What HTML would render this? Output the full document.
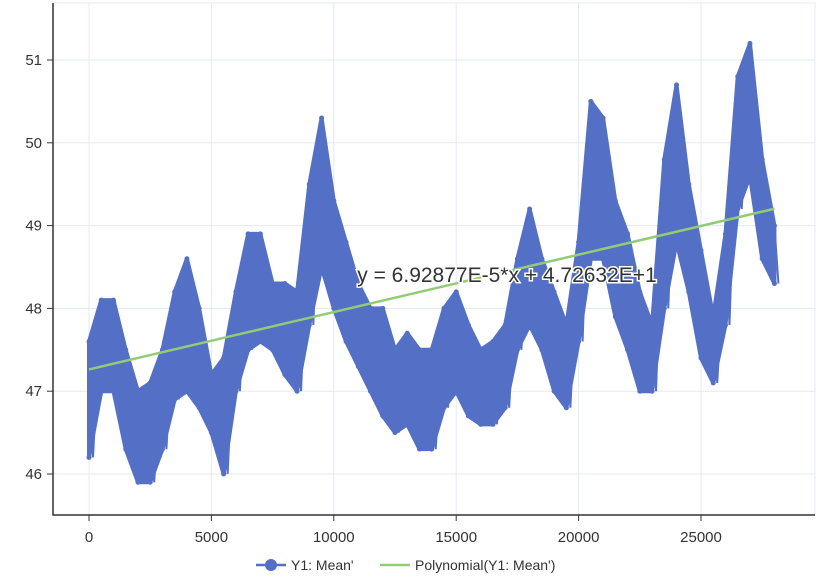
<!DOCTYPE html>
<html><head><meta charset="utf-8"><style>
html,body{margin:0;padding:0;background:#fff;}
svg{display:block;font-family:"Liberation Sans",sans-serif;}
</style></head><body>
<svg id="chart" width="839" height="587"></svg>
<script>
const xVals=[0,500,1000,1500,2000,2500,3000,3500,4000,4500,5000,5500,6000,6500,7000,7500,8000,8500,9000,9500,10000,10500,11000,11500,12000,12500,13000,13500,14000,14500,15000,15500,16000,16500,17000,17500,18000,18500,19000,19500,20000,20500,21000,21500,22000,22500,23000,23500,24000,24500,25000,25500,26000,26500,27000,27500,28000];
const hiVals=[47.6,48.1,48.1,47.5,47.0,47.1,47.5,48.2,48.6,48.0,47.2,47.4,48.2,48.9,48.9,48.3,48.3,48.2,49.5,50.3,49.3,48.8,48.3,48.0,48.0,47.5,47.7,47.5,47.5,48.0,48.2,47.8,47.5,47.6,47.8,48.6,49.2,48.6,48.2,47.8,48.8,50.5,50.3,49.3,48.9,48.2,47.8,49.8,50.7,49.5,48.7,47.9,48.9,50.8,51.2,49.8,49.0];
const loVals=[46.2,47.0,47.0,46.3,45.9,45.9,46.3,46.9,47.0,46.8,46.5,46.0,47.0,47.5,47.6,47.5,47.2,47.0,47.8,48.5,48.0,47.6,47.3,47.0,46.7,46.5,46.6,46.3,46.3,46.8,47.0,46.7,46.6,46.6,46.8,47.5,47.8,47.5,47.0,46.8,47.6,48.6,48.6,47.9,47.5,47.0,47.0,48.0,48.8,48.2,47.4,47.1,47.8,49.2,49.6,48.6,48.3];
const xTicks=[0,5000,10000,15000,20000,25000];
const yTicks=[46,47,48,49,50,51];
const fitCoef=[47.2632,6.92877e-5];
const fitRange=[0,28000];

const NS="http://www.w3.org/2000/svg";
const svg=document.getElementById('chart');
const L=53,R=815,T=3,B=515;
const sx=v=>89+v*(701-89)/25000;
const sy=v=>60+(51-v)*82.8;
function mk(tag,attrs,parent){const e=document.createElementNS(NS,tag);for(const k in attrs)e.setAttribute(k,attrs[k]);(parent||svg).appendChild(e);return e;}

const grid=mk('g',{});


xTicks.forEach(t=>{const l=mk('line',{x1:sx(t),x2:sx(t),y1:T,y2:B,stroke:'#e3e8f2','stroke-width':1},grid);

});
yTicks.forEach(t=>{const l=mk('line',{x1:L,x2:R,y1:sy(t),y2:sy(t),stroke:'#e3e8f2','stroke-width':1},grid);

});
const frame=mk('path',{d:`M${L} ${T}H${R}V${B}`,fill:'none',stroke:'#e3e8f2'});



const band=mk('g',{});


let d='M'+xVals.map((x,i)=>sx(x)+' '+sy(hiVals[i])).join('L');
for(let i=xVals.length-1;i>=0;i--)d+='L'+sx(xVals[i])+' '+sy(loVals[i]);
d+='Z';
const area=mk('path',{d:d,fill:'#5470c6',stroke:'#5470c6','stroke-width':4,'stroke-linejoin':'round'},band);


let zz='';
xVals.forEach((x,i)=>{zz+=(i?'L':'M')+sx(x)+' '+sy(hiVals[i])+'L'+(sx(x)+4)+' '+sy(loVals[i]);});
const zig=mk('path',{d:zz,fill:'none',stroke:'#5470c6','stroke-width':2},band);


xVals.forEach((x,i)=>{
 const a=mk('circle',{cx:sx(x),cy:sy(hiVals[i]),r:2.5,fill:'#5470c6'},band);
 
 
 const b=mk('circle',{cx:sx(x),cy:sy(loVals[i]),r:2.5,fill:'#5470c6'},band);
 
 
});

const f=x=>fitCoef[0]+fitCoef[1]*x;
const fit=mk('line',{x1:sx(fitRange[0]),y1:sy(f(fitRange[0])),x2:sx(fitRange[1]),y2:sy(f(fitRange[1])),stroke:'#91cc75','stroke-width':2.5});


const eq=mk('text',{x:507,y:282,'text-anchor':'middle','font-size':21,fill:'#333',stroke:'#fff','stroke-width':3,'paint-order':'stroke'});
eq.textContent='y = 6.92877E-5*x + 4.72632E+1';



const ax=mk('path',{d:`M${L} ${T}V${B}H${R}`,fill:'none',stroke:'#333','stroke-width':1.5});


xTicks.forEach(t=>{
 const tk=mk('line',{x1:sx(t),x2:sx(t),y1:B,y2:B+6,stroke:'#333'});
 
 
 const tx=mk('text',{x:sx(t),y:B+27,'text-anchor':'middle','font-size':15,fill:'#333'});
 tx.textContent=t;
 
 
});
yTicks.forEach(t=>{
 const tk=mk('line',{x1:L-6,x2:L,y1:sy(t),y2:sy(t),stroke:'#333'});
 
 
 const tx=mk('text',{x:L-11,y:sy(t)+5,'text-anchor':'end','font-size':15,fill:'#333'});
 tx.textContent=t;
 
 
});

const lg=mk('g',{});


const e1=mk('g',{},lg);


mk('line',{x1:256,x2:286,y1:565,y2:565,stroke:'#5470c6','stroke-width':2.5},e1);
mk('circle',{cx:271,cy:565,r:6,fill:'#5470c6'},e1);
const t1=mk('text',{x:291,y:570,'font-size':14,fill:'#333'},e1);t1.textContent="Y1: Mean'";
const e2=mk('g',{},lg);


mk('line',{x1:380,x2:410,y1:565,y2:565,stroke:'#91cc75','stroke-width':2.5},e2);
const t2=mk('text',{x:415,y:570,'font-size':14,fill:'#333'},e2);t2.textContent="Polynomial(Y1: Mean')";
</script>
</body></html>
